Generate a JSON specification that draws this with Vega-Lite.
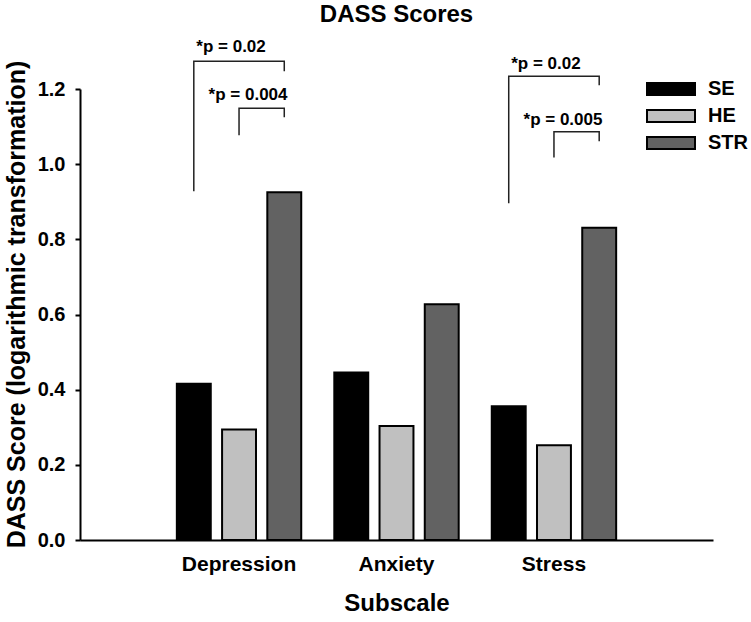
{
  "$schema": "https://vega.github.io/schema/vega-lite/v6.json",
  "width": 633,
  "height": 451,
  "autosize": {"type": "none"},
  "padding": {"left": 80, "top": 89, "right": 38, "bottom": 82},
  "background": "white",
  "title": {"text": "DASS Scores", "font": "Liberation Sans", "fontSize": 24, "fontWeight": "bold", "color": "black", "anchor": "middle", "offset": 11},
  "config": {
    "view": {"stroke": null},
    "font": "Liberation Sans",
    "axis": {"domainColor": "black", "domainWidth": 2, "tickColor": "black", "tickWidth": 2, "tickSize": 5, "labelFont": "Liberation Sans", "labelFontSize": 20, "labelFontWeight": "bold", "labelColor": "black", "titleFont": "Liberation Sans", "titleFontSize": 24, "titleFontWeight": "bold", "titleColor": "black", "grid": false}
  },
  "datasets": {
    "bars": [
      {"subscale": "Depression", "group": "SE", "score": 0.416},
      {"subscale": "Depression", "group": "HE", "score": 0.294},
      {"subscale": "Depression", "group": "STR", "score": 0.925},
      {"subscale": "Anxiety", "group": "SE", "score": 0.446},
      {"subscale": "Anxiety", "group": "HE", "score": 0.303},
      {"subscale": "Anxiety", "group": "STR", "score": 0.627},
      {"subscale": "Stress", "group": "SE", "score": 0.356},
      {"subscale": "Stress", "group": "HE", "score": 0.252},
      {"subscale": "Stress", "group": "STR", "score": 0.831}
    ],
    "brackets": [
      {"id": "d1", "subscale": "Depression", "group": "SE", "y": 0.928, "step": 1},
      {"id": "d1", "subscale": "Depression", "group": "SE", "y": 1.274, "step": 2},
      {"id": "d1", "subscale": "Depression", "group": "STR", "y": 1.274, "step": 3},
      {"id": "d1", "subscale": "Depression", "group": "STR", "y": 1.247, "step": 4},
      {"id": "d2", "subscale": "Depression", "group": "HE", "y": 1.077, "step": 1},
      {"id": "d2", "subscale": "Depression", "group": "HE", "y": 1.149, "step": 2},
      {"id": "d2", "subscale": "Depression", "group": "STR", "y": 1.149, "step": 3},
      {"id": "d2", "subscale": "Depression", "group": "STR", "y": 1.125, "step": 4},
      {"id": "s1", "subscale": "Stress", "group": "SE", "y": 0.896, "step": 1},
      {"id": "s1", "subscale": "Stress", "group": "SE", "y": 1.234, "step": 2},
      {"id": "s1", "subscale": "Stress", "group": "STR", "y": 1.234, "step": 3},
      {"id": "s1", "subscale": "Stress", "group": "STR", "y": 1.21, "step": 4},
      {"id": "s2", "subscale": "Stress", "group": "HE", "y": 1.018, "step": 1},
      {"id": "s2", "subscale": "Stress", "group": "HE", "y": 1.086, "step": 2},
      {"id": "s2", "subscale": "Stress", "group": "STR", "y": 1.086, "step": 3},
      {"id": "s2", "subscale": "Stress", "group": "STR", "y": 1.061, "step": 4}
    ],
    "outerLabels": [
      {"subscale": "Depression", "group": "HE", "y": 1.298, "text": "*p = 0.02"},
      {"subscale": "Stress", "group": "HE", "y": 1.252, "text": "*p = 0.02"}
    ],
    "innerLabels": [
      {"subscale": "Depression", "group": "HE", "y": 1.17, "text": "*p = 0.004"},
      {"subscale": "Stress", "group": "HE", "y": 1.104, "text": "*p = 0.005"}
    ]
  },
  "encoding": {
    "x": {
      "field": "subscale", "type": "nominal",
      "scale": {"domain": ["Depression", "Anxiety", "Stress"], "paddingInner": 0.21, "paddingOuter": 0.615},
      "axis": {"title": "Subscale", "ticks": false, "labelAngle": 0, "labelFontSize": 21, "labelPadding": 13, "titlePadding": 17}
    },
    "xOffset": {
      "field": "group", "type": "nominal",
      "scale": {"domain": ["SE", "HE", "STR"], "paddingInner": 0.25, "paddingOuter": 0}
    }
  },
  "layer": [
    {
      "data": {"name": "bars"},
      "mark": {"type": "bar", "stroke": "black", "strokeWidth": 2},
      "encoding": {
        "y": {
          "field": "score", "type": "quantitative",
          "scale": {"domain": [0, 1.2], "nice": false, "zero": true},
          "axis": {"title": "DASS Score (logarithmic transformation)", "values": [0, 0.2, 0.4, 0.6, 0.8, 1.0, 1.2], "format": ".1f", "labelPadding": 10, "titleFontSize": 25, "titlePadding": 8, "titleY": 215}
        },
        "fill": {
          "field": "group", "type": "nominal",
          "scale": {"domain": ["SE", "HE", "STR"], "range": ["#000000", "#c0c0c0", "#626262"]},
          "legend": {"orient": "none", "legendX": 578, "legendY": -13, "title": null, "symbolType": "M-2,-0.5H2V0.5H-2Z", "symbolSize": 576, "symbolStrokeColor": "black", "symbolStrokeWidth": 2, "symbolOpacity": 1, "labelFont": "Liberation Sans", "labelFontSize": 20, "labelFontWeight": "bold", "labelColor": "black", "labelOffset": 24, "rowPadding": 4}
        }
      }
    },
    {
      "data": {"name": "brackets"},
      "mark": {"type": "line", "stroke": "#222222", "strokeWidth": 1.5},
      "encoding": {
        "y": {"field": "y", "type": "quantitative"},
        "detail": {"field": "id"},
        "order": {"field": "step", "type": "quantitative"}
      }
    },
    {
      "data": {"name": "outerLabels"},
      "mark": {"type": "text", "font": "Liberation Sans", "fontSize": 17, "fontWeight": "bold", "color": "black", "baseline": "alphabetic", "align": "center", "dx": -8},
      "encoding": {
        "y": {"field": "y", "type": "quantitative"},
        "text": {"field": "text"}
      }
    },
    {
      "data": {"name": "innerLabels"},
      "mark": {"type": "text", "font": "Liberation Sans", "fontSize": 17, "fontWeight": "bold", "color": "black", "baseline": "alphabetic", "align": "center", "dx": 9},
      "encoding": {
        "y": {"field": "y", "type": "quantitative"},
        "text": {"field": "text"}
      }
    }
  ]
}
